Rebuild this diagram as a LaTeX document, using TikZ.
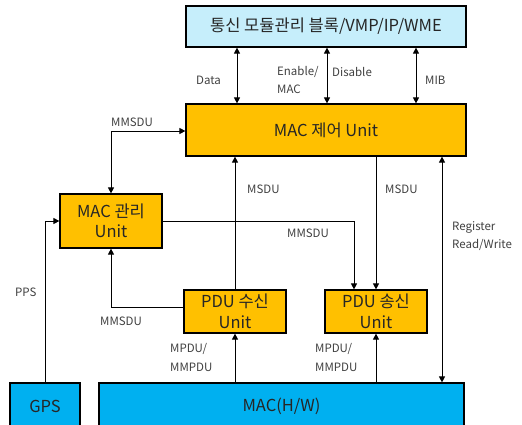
\documentclass[tikz,border=0pt]{standalone}
\usepackage{fontspec}
\setmainfont{Noto Sans CJK KR}
\usetikzlibrary{arrows.meta,calc}
\definecolor{topblue}{HTML}{C6EEFB}
\definecolor{unitor}{HTML}{FFC000}
\definecolor{hwblue}{HTML}{00B0F0}
\tikzset{
  box/.style={draw=black, line width=1.2pt, inner sep=0pt, align=center, text=black!85, font=\fontsize{16.5}{20.5}\selectfont},
  orbox/.style={box, fill=unitor},
  lbl/.style={font=\fontsize{11.5}{17}\selectfont, text=black!75, align=left, inner sep=0pt},
  conn/.style={line width=1pt, -{Triangle[length=6pt,width=6pt]}},
  dconn/.style={line width=1pt, {Triangle[length=6pt,width=6pt]}-{Triangle[length=6pt,width=6pt]}}
}
\begin{document}
\begin{tikzpicture}[x=1pt,y=-1pt]
\useasboundingbox (0,0) rectangle (522,424);
\clip (0,0) rectangle (522,424);
\node[box, fill=topblue, minimum width=280, minimum height=41] (top) at (326,26.5) {통신 모듈관리 블록/VMP/IP/WME};
\node[orbox, minimum width=280, minimum height=52] (ctl) at (326,130) {MAC 제어 Unit};
\node[orbox, minimum width=102, minimum height=54] (mgmt) at (111,221) {MAC 관리\\Unit};
\node[orbox, minimum width=102, minimum height=43] (rx) at (235,311.5) {PDU 수신\\Unit};
\node[orbox, minimum width=102, minimum height=43] (tx) at (376,311.5) {PDU 송신\\Unit};
\node[box, fill=hwblue, minimum width=70, minimum height=46] (gps) at (45,406) {GPS};
\node[box, fill=hwblue, minimum width=365, minimum height=46] (hw) at (281.5,406) {MAC(H/W)};

\coordinate (xa) at (237,0);
\coordinate (xb) at (327,0);
\coordinate (xc) at (416,0);
\coordinate (xm) at (111,0);
\coordinate (xr) at (235,0);
\coordinate (xt) at (376,0);
\coordinate (xs) at (354,0);
\coordinate (xg) at (442,0);
\coordinate (xp) at (45,0);
\coordinate (ym) at (0,131);
\coordinate (yr) at (0,307);

\draw[dconn] (top.south -| xa) -- (ctl.north -| xa);
\draw[dconn] (top.south -| xb) -- (ctl.north -| xb);
\draw[dconn] (top.south -| xc) -- (ctl.north -| xc);
\node[lbl, anchor=west] (ldata) at (196,80) {Data};
\node[lbl, anchor=west] (len) at (277,72) {Enable/};
\node[lbl, anchor=west] (lmac) at (277,89) {MAC};
\node[lbl, anchor=west] (ldis) at (332,72) {Disable};
\node[lbl, anchor=west] (lmib) at (425,80) {MIB};

\draw[dconn] (mgmt.north -| xm) |- (ctl.west |- ym);
\node[lbl, anchor=west] (lmm1) at (111,122) {MMSDU};

\draw[conn] (rx.north -| xr) -- (ctl.south -| xr);
\node[lbl, anchor=west] (lms1) at (247,189) {MSDU};
\draw[conn] (ctl.south -| xt) -- (tx.north -| xt);
\node[lbl, anchor=west] (lms2) at (385,189) {MSDU};
\draw[dconn] (ctl.south -| xg) -- (hw.north -| xg);
\node[lbl, anchor=west] (lreg) at (452,227) {Register};
\node[lbl, anchor=west] (lrw) at (452,245) {Read/Write};

\draw[conn] (mgmt.east) -| (tx.north -| xs);
\node[lbl, anchor=west] (lmm2) at (287,233) {MMSDU};

\draw[conn] (gps.north -| xp) |- (mgmt.west);
\node[lbl, anchor=west] (lpps) at (15,292) {PPS};

\draw[conn] (rx.west |- yr) -| (mgmt.south -| xm);
\node[lbl, anchor=west] (lmm3) at (100,321) {MMSDU};

\draw[conn] (hw.north -| xr) -- (rx.south -| xr);
\node[lbl, anchor=west] (lmp1) at (170,349) {MPDU/};
\node[lbl, anchor=west] (lmp2) at (170,367) {MMPDU};
\draw[conn] (hw.north -| xt) -- (tx.south -| xt);
\node[lbl, anchor=west] (lmp3) at (315,349) {MPDU/};
\node[lbl, anchor=west] (lmp4) at (315,367) {MMPDU};
\end{tikzpicture}
\end{document}
